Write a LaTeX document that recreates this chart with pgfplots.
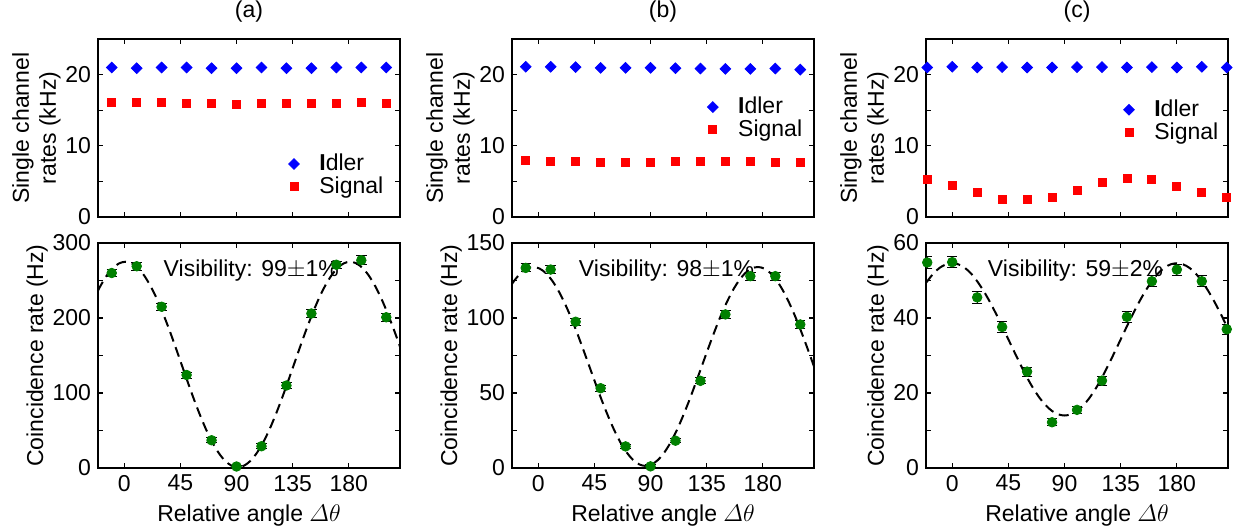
\documentclass[border=0pt]{standalone}
\usepackage{fontspec}
\setmainfont{Liberation Sans}
\usepackage{amsmath}
\usepackage{pgfplots}
\pgfplotsset{compat=1.18}

\definecolor{idl}{RGB}{0,0,255}
\definecolor{sig}{RGB}{255,0,0}
\definecolor{coin}{RGB}{0,128,0}
\newcommand{\fs}{\fontsize{11.5}{13.5}\selectfont}

\pgfplotsset{
  panel/.style={
    scale only axis, width=151pt,
    xmin=-21, xmax=221, ymin=0,
    xtick={0,45,90,135,180},
    tick align=inside,
    major tick length=2.5pt, minor tick length=2.5pt,
    tick style={black, line width=0.6pt},
    axis line style={line width=0.9pt},
    minor y tick num=1,
    tick label style={font=\fs},
    label style={font=\fs},
    ylabel style={yshift=-4.5pt},
    title style={font=\fs, yshift=-1pt},
    /pgf/number format/assume math mode=true,
  },
  toppanel/.style={panel, height=89pt, ymax=25, ytick={0,10,20}, xticklabels={},
    ylabel={Single channel\\rates (kHz)}, ylabel style={align=center},
    legend style={draw=none, fill=none, font=\fs, row sep=-2.5pt, column sep=8pt,
      anchor=north west},
    legend cell align=left},
  botpanel/.style={panel, height=112.5pt,
    xlabel={Relative angle $\varDelta\theta$}, ylabel={Coincidence rate (Hz)}},
  idler/.style={only marks, mark=square*, color=idl, mark size=1.9pt, mark options={rotate=45}},
  signal/.style={only marks, mark=square*, color=sig, mark size=2pt},
  coinc/.style={only marks, mark=*, color=coin, mark size=2.4pt,
    error bars/.cd, y dir=both, y explicit, error mark=-,
    error bar style={black, line width=0.5pt},
    error mark options={black, rotate=90, mark size=2.6pt, line width=0.5pt}},
  fit/.style={black, line width=1pt, dash pattern=on 5pt off 3pt, smooth},
}

\begin{document}
\begin{tikzpicture}
\useasboundingbox (-49pt,-31.5pt) rectangle (571pt,234pt);

% ---------- (a) ----------
\begin{axis}[toppanel, at={(0pt,125.5pt)}, anchor=south west, title={(a)},
  legend style={at={(0.61,0.40)}}]
\addplot[idler] coordinates {(-10,21.0) (10,20.9) (30,21.0) (50,21.0) (70,20.9) (90,20.9)
  (110,21.0) (130,20.9) (150,20.9) (170,21.0) (190,21.0) (210,21.0)};
\addplot[signal] coordinates {(-10,16.1) (10,16.1) (30,16.05) (50,16.0) (70,15.9) (90,15.8)
  (110,15.9) (130,15.95) (150,16.0) (170,16.0) (190,16.05) (210,16.0)};
\legend{{\bfseries I}dler, Signal}
\end{axis}
\begin{axis}[botpanel, at={(0pt,0pt)}, anchor=south west, ymax=300, ytick={0,100,200,300}]
\addplot[fit] coordinates {(-21,236.5) (-19,242.9) (-14,256.6) (-9,266.7) (-4,272.9) (1,275)
  (6,272.9) (11,266.7) (16,256.6) (21,242.9) (26,226.1) (31,206.5) (36,184.9) (41,161.8)
  (46,138) (51,114.2) (56,91.1) (61,69.5) (66,49.9) (71,33.1) (76,19.4) (81,9.3) (86,3.1)
  (91,1) (96,3.1) (101,9.3) (106,19.4) (111,33.1) (116,49.9) (121,69.5) (126,91.1)
  (131,114.2) (136,138) (141,161.8) (146,184.9) (151,206.5) (156,226.1) (161,242.9)
  (166,256.6) (171,266.7) (176,272.9) (181,275) (186,272.9) (191,266.7) (196,256.6)
  (201,242.9) (206,226.1) (211,206.5) (216,184.9) (221,161.8)};
\addplot[coinc] coordinates {(-10,260) +- (0,5) (10,269) +- (0,5) (30,215) +- (0,5)
  (50,124) +- (0,4) (70,37) +- (0,3.5) (90,2) +- (0,2) (110,29) +- (0,3.5) (130,110) +- (0,4)
  (150,206) +- (0,5) (170,271) +- (0,5) (190,277) +- (0,6) (210,201) +- (0,5)};
\node[anchor=west, font=\fs] at (axis cs:26,263) {Visibility: 99$\pm$1\%};
\end{axis}

% ---------- (b) ----------
\begin{axis}[toppanel, at={(207pt,125.5pt)}, anchor=south west, title={(b)},
  legend style={at={(0.626,0.72)}}]
\addplot[idler] coordinates {(-10,21.1) (10,21.1) (30,21.05) (50,20.95) (70,20.95) (90,20.95)
  (110,20.9) (130,20.85) (150,20.8) (170,20.8) (190,20.85) (210,20.7)};
\addplot[signal] coordinates {(-10,7.9) (10,7.85) (30,7.75) (50,7.65) (70,7.65) (90,7.65)
  (110,7.75) (130,7.75) (150,7.8) (170,7.8) (190,7.7) (210,7.7)};
\legend{{\bfseries I}dler, Signal}
\end{axis}
\begin{axis}[botpanel, at={(207pt,0pt)}, anchor=south west, ymax=150, ytick={0,50,100,150}]
\addplot[fit] coordinates {(-21,122.7) (-19,125.1) (-14,130.0) (-9,133.0) (-4,134.0) (1,133.0)
  (6,130.0) (11,125.1) (16,118.5) (21,110.3) (26,100.9) (31,90.4) (36,79.2) (41,67.7)
  (46,56.2) (51,45.0) (56,34.6) (61,25.1) (66,16.9) (71,10.3) (76,5.4) (81,2.4) (86,1.4)
  (91,2.4) (96,5.4) (101,10.3) (106,16.9) (111,25.1) (116,34.6) (121,45.0) (126,56.2)
  (131,67.7) (136,79.2) (141,90.4) (146,100.9) (151,110.3) (156,118.5) (161,125.1)
  (166,130.0) (171,133.0) (176,134.0) (181,133.0) (186,130.0) (191,125.1) (196,118.5)
  (201,110.3) (206,100.9) (211,90.4) (216,79.2) (221,67.7)};
\addplot[coinc] coordinates {(-10,133.4) +- (0,2.7) (10,132.3) +- (0,2.7) (30,97.5) +- (0,2.5)
  (50,53.2) +- (0,2) (70,14.4) +- (0,1.5) (90,1.1) +- (0,1) (110,18.2) +- (0,1.5)
  (130,58.1) +- (0,2) (150,102.4) +- (0,2.5) (170,127.9) +- (0,2.7) (190,127.9) +- (0,2.7)
  (210,95.7) +- (0,2.5)};
\node[anchor=west, font=\fs] at (axis cs:27,131.5) {Visibility: 98$\pm$1\%};
\end{axis}

% ---------- (c) ----------
\begin{axis}[toppanel, at={(414pt,125.5pt)}, anchor=south west, title={(c)},
  legend style={at={(0.633,0.705)}}]
\addplot[idler] coordinates {(-20,21.0) (0,21.1) (20,21.0) (40,21.05) (60,21.0) (80,21.0)
  (100,21.05) (120,21.05) (140,21.0) (160,21.05) (180,21.0) (200,21.1) (220,21.0)};
\addplot[signal] coordinates {(-20,5.27) (0,4.42) (20,3.44) (40,2.54) (60,2.45) (80,2.82)
  (100,3.76) (120,4.89) (140,5.41) (160,5.27) (180,4.33) (200,3.44) (220,2.73)};
\legend{{\bfseries I}dler, Signal}
\end{axis}
\begin{axis}[botpanel, at={(414pt,0pt)}, anchor=south west, ymax=60, ytick={0,20,40,60}]
\addplot[fit] coordinates {(-21,49.4) (-20,49.8) (-15,51.9) (-10,53.4) (-5,54.3) (0,54.6)
  (5,54.3) (10,53.4) (15,51.9) (20,49.8) (25,47.3) (30,44.4) (35,41.2) (40,37.8) (45,34.3)
  (50,30.8) (55,27.4) (60,24.1) (65,21.2) (70,18.7) (75,16.7) (80,15.2) (85,14.3) (90,14.0)
  (95,14.3) (100,15.2) (105,16.7) (110,18.7) (115,21.2) (120,24.1) (125,27.4) (130,30.8)
  (135,34.3) (140,37.8) (145,41.2) (150,44.4) (155,47.3) (160,49.8) (165,51.9) (170,53.4)
  (175,54.3) (180,54.6) (185,54.3) (190,53.4) (195,51.9) (200,49.8) (205,47.3) (210,44.4)
  (215,41.2) (220,37.8) (221,37.1)};
\addplot[coinc] coordinates {(-20,54.8) +- (0,1.5) (0,54.9) +- (0,1.5) (20,45.5) +- (0,1.5)
  (40,37.6) +- (0,1.4) (60,25.7) +- (0,1.2) (80,12.2) +- (0,0.9) (100,15.5) +- (0,1)
  (120,23.3) +- (0,1.2) (140,40.3) +- (0,1.4) (160,49.8) +- (0,1.5) (180,52.9) +- (0,1.5)
  (200,49.8) +- (0,1.5) (220,37.0) +- (0,1.4)};
\node[anchor=west, font=\fs] at (axis cs:23,52.7) {Visibility: 59$\pm$2\%};
\end{axis}
\end{tikzpicture}
\end{document}
